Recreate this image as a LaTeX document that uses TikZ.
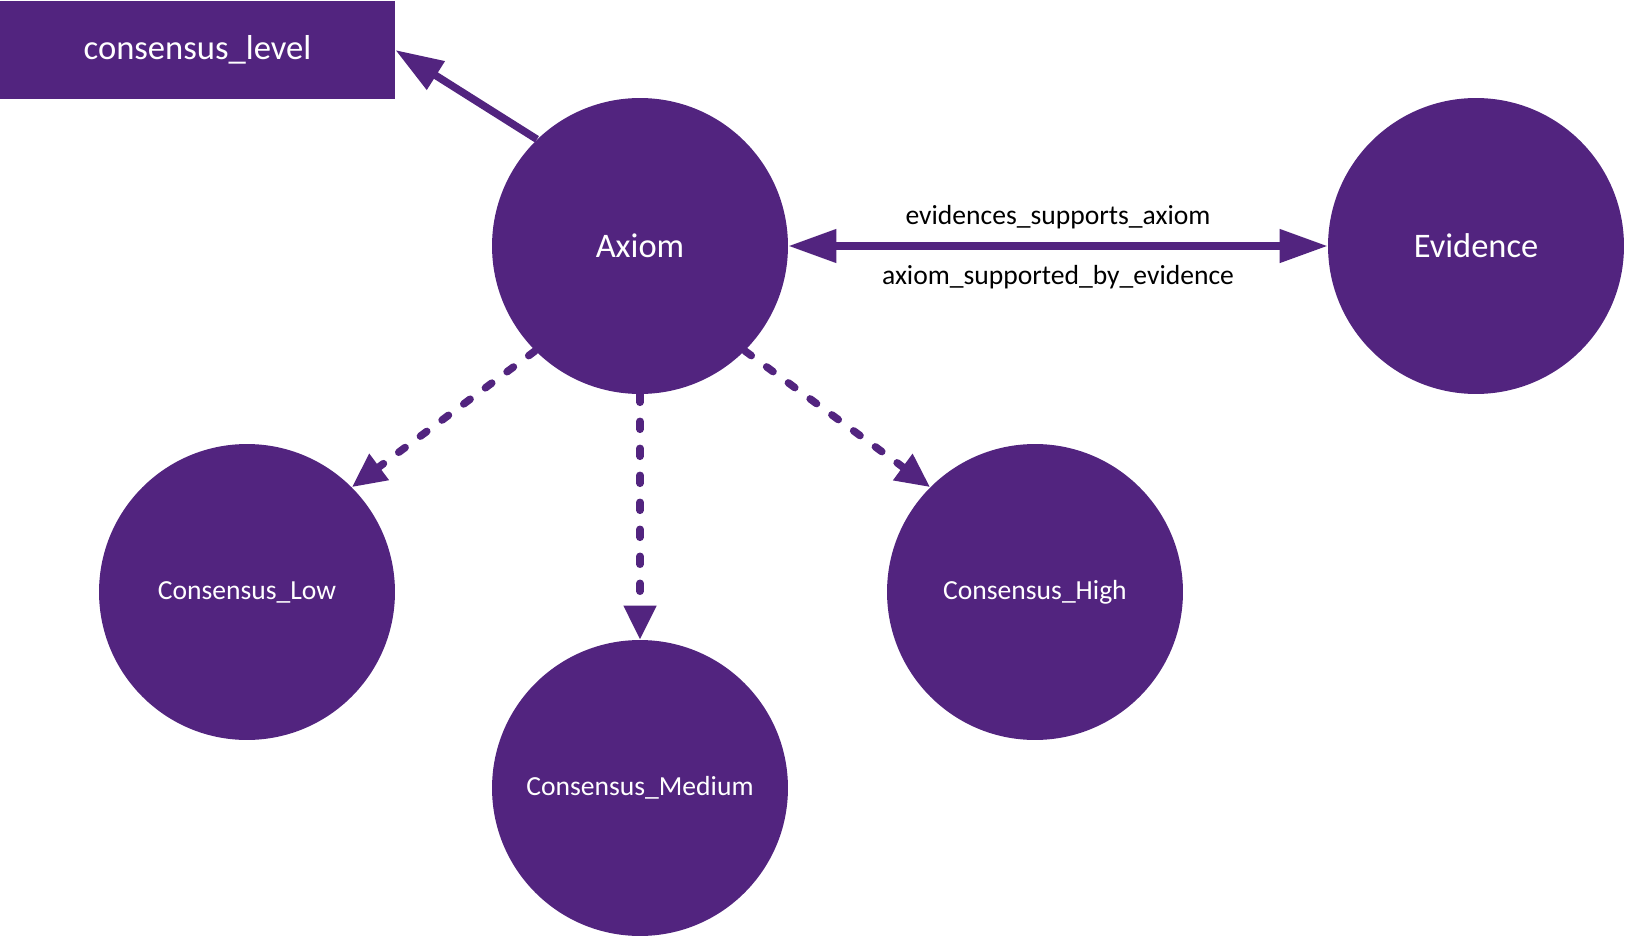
\documentclass[tikz,border=0pt]{standalone}
\usepackage{fontspec}
\setmainfont{Carlito}
\usetikzlibrary{arrows.meta, positioning}
\definecolor{grape}{HTML}{52247F}

\begin{document}
\begin{tikzpicture}[x=0.02cm, y=-0.02cm,
    concept/.style={circle, fill=grape, text=white, inner sep=0pt, minimum size=5.92cm},
    link/.style={grape, line width=0.15cm, -{Triangle[length=0.96cm, width=0.64cm]}},
    subclass/.style={grape, line width=0.15cm, line cap=round, dash pattern=on 0.16cm off 0.38cm, -{Triangle[length=0.68cm, width=0.62cm]}}]
    \useasboundingbox (0, 0) rectangle (1626, 936);

    \node[rectangle, fill=grape, text=white, inner sep=0pt, minimum width=7.9cm, minimum height=1.98cm, font=\fontsize{19.7}{23}\selectfont] (level) at (197.5, 50) {consensus\_level};

    \node[concept, font=\fontsize{19.6}{23}\selectfont] (axiom) at (640, 246) {Axiom};
    \node[concept, font=\fontsize{19.6}{23}\selectfont] (evidence) at (1476, 246) {Evidence};
    \node[concept, font=\fontsize{15.7}{19}\selectfont] (low) at (247, 592) {Consensus\_Low};
    \node[concept, font=\fontsize{15.7}{19}\selectfont] (medium) at (640, 788) {Consensus\_Medium};
    \node[concept, font=\fontsize{15.7}{19}\selectfont] (high) at (1035, 592) {Consensus\_High};

    \draw[link] (axiom.134) -- (level.east);
    \draw[link, {Triangle[length=0.96cm, width=0.64cm]}-{Triangle[length=0.96cm, width=0.64cm]}] (axiom) -- (evidence)
        node[midway, yshift=0.58cm, font=\fontsize{15.7}{18}\selectfont, text=black] (supports) {evidences\_supports\_axiom}
        node[midway, yshift=-0.62cm, font=\fontsize{15.7}{18}\selectfont, text=black] (supported) {axiom\_supported\_by\_evidence};

    \draw[subclass] (axiom.225) -- (low.45);
    \draw[subclass] (axiom) -- (medium);
    \draw[subclass] (axiom.-45) -- (high.135);

\end{tikzpicture}
\end{document}
